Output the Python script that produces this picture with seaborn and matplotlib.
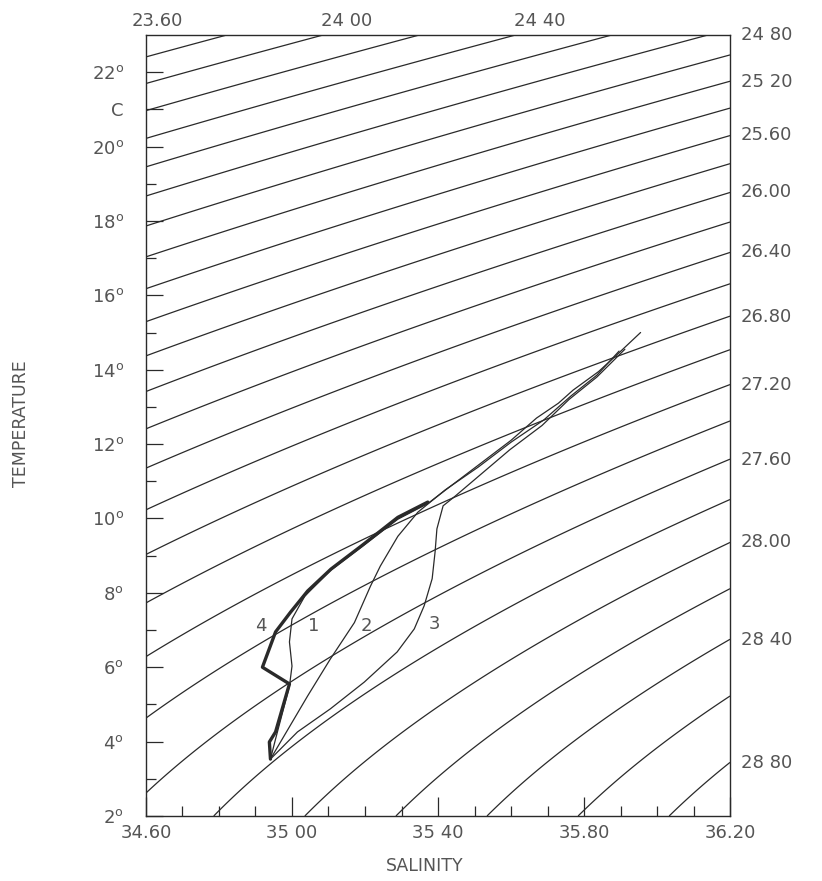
import numpy as np
import pandas as pd
import matplotlib
matplotlib.use("Agg")
import matplotlib.pyplot as plt
import seaborn as sns

# ---------------- data ----------------
# isopycnal (sigma-t) levels drawn on the diagram
sigma_levels = [23.6, 23.8, 24.0, 24.2, 24.4, 24.6, 24.8, 25.0, 25.2, 25.4, 25.6,
                25.8, 26.0, 26.2, 26.4, 26.6, 26.8, 27.0, 27.2, 27.4, 27.6, 27.8,
                28.0, 28.2, 28.4, 28.6, 28.8]
top_labels = [23.6, 24.0, 24.4]
top_texts = ["23.60", "24 00", "24 40"]
right_labels = [24.8, 25.2, 25.6, 26.0, 26.4, 26.8, 27.2, 27.6, 28.0, 28.4, 28.8]
right_texts = ["24 80", "25 20", "25.60", "26.00", "26.40", "26.80", "27.20",
               "27.60", "28.00", "28 40", "28 80"]

x_ticks = [34.60, 35.00, 35.40, 35.80, 36.20]
x_texts = ["34.60", "35 00", "35 40", "35.80", "36.20"]
y_ticks = [2, 4, 6, 8, 10, 12, 14, 16, 18, 20, 21, 22]
y_texts = ["2$^{\\rm o}$", "4$^{\\rm o}$", "6$^{\\rm o}$", "8$^{\\rm o}$", "10$^{\\rm o}$",
           "12$^{\\rm o}$", "14$^{\\rm o}$", "16$^{\\rm o}$", "18$^{\\rm o}$",
           "20$^{\\rm o}$", "C", "22$^{\\rm o}$"]

# T-S curves (salinity, temperature)
curve4_S = [34.941, 34.938, 34.955, 34.993, 34.919, 34.955, 34.996, 35.043, 35.107,
            35.19, 35.29, 35.372]
curve4_T = [3.53, 3.99, 4.26, 5.55, 6.00, 6.95, 7.48, 8.05, 8.64, 9.26, 10.03, 10.44]

curve1_S = [34.941, 34.955, 34.993, 35.000, 34.993, 35.000, 35.035, 35.105, 35.19,
            35.29, 35.372, 35.42, 35.51, 35.60, 35.67, 35.73, 35.77, 35.84, 35.89, 35.955]
curve1_T = [3.53, 4.07, 5.49, 6.03, 6.68, 7.30, 7.91, 8.60, 9.23, 9.98, 10.40, 10.76,
            11.43, 12.10, 12.70, 13.10, 13.45, 13.95, 14.40, 15.00]

curve2_S = [34.941, 35.043, 35.105, 35.171, 35.215, 35.242, 35.29, 35.345, 35.42,
            35.51, 35.60, 35.69, 35.765, 35.835, 35.896]
curve2_T = [3.53, 5.23, 6.22, 7.20, 8.18, 8.72, 9.52, 10.17, 10.77, 11.38, 12.05,
            12.65, 13.30, 13.85, 14.50]

curve3_S = [34.941, 35.015, 35.105, 35.198, 35.288, 35.335, 35.362, 35.384, 35.392,
            35.397, 35.414, 35.447, 35.507, 35.597, 35.685, 35.759, 35.835, 35.912]
curve3_T = [3.53, 4.26, 4.88, 5.60, 6.41, 7.03, 7.65, 8.38, 9.10, 9.72, 10.34, 10.60,
            11.10, 11.85, 12.50, 13.20, 13.80, 14.55]

curve_labels = ["4", "1", "2", "3"]
curve_label_S = [34.915, 35.060, 35.205, 35.390]
curve_label_T = [7.1, 7.1, 7.1, 7.15]

S_min, S_max = 34.60, 36.20
T_min, T_max = 2.0, 23.0


def sigma_t(S, T):
    rw = (999.842594 + 6.793952e-2 * T - 9.095290e-3 * T**2 + 1.001685e-4 * T**3
          - 1.120083e-6 * T**4 + 6.536332e-9 * T**5)
    A = 0.824493 - 4.0899e-3 * T + 7.6438e-5 * T**2 - 8.2467e-7 * T**3 + 5.3875e-9 * T**4
    B = -5.72466e-3 + 1.0227e-4 * T - 1.6546e-6 * T**2
    C = 4.8314e-4
    return rw + A * S + B * S**1.5 + C * S**2 - 1000.0


# ---------------- plot ----------------
sns.set_theme(style="white")
plt.rcParams['font.family'] = ['DejaVu Sans']
plt.rcParams['mathtext.fontset'] = 'dejavusans'

txt = "#555555"
ink = "#2a2a2a"

fig = plt.figure(figsize=(8.22, 8.81), dpi=100)
ax = fig.add_axes([0.1776, 0.0738, 0.7105, 0.8865])

Sg = np.linspace(S_min, S_max, 400)
Tg = np.linspace(T_min, T_max, 400)
SS, TT = np.meshgrid(Sg, Tg)
ax.contour(SS, TT, sigma_t(SS, TT), levels=sigma_levels, colors=ink, linewidths=0.9)

lw = {"4": 2.4, "1": 0.9, "2": 0.9, "3": 0.9}
for name, S, T in [("1", curve1_S, curve1_T), ("2", curve2_S, curve2_T),
                   ("3", curve3_S, curve3_T), ("4", curve4_S, curve4_T)]:
    df = pd.DataFrame({"S": S, "T": T})
    sns.lineplot(data=df, x="S", y="T", sort=False, estimator=None, ax=ax,
                 color=ink, linewidth=lw[name])

for lab, s, t in zip(curve_labels, curve_label_S, curve_label_T):
    ax.text(s, t, lab, ha="center", va="center", fontsize=13, color=txt)

ax.set_xlim(S_min, S_max)
ax.set_ylim(T_min, T_max)
ax.set_xlabel("")
ax.set_ylabel("")

for sp in ax.spines.values():
    sp.set_color(ink)
    sp.set_linewidth(1.0)

# ticks
ax.set_xticks(x_ticks)
ax.set_xticklabels(x_texts)
ax.set_xticks(np.arange(34.7, 36.15, 0.1), minor=True)
ax.set_yticks(y_ticks)
ax.set_yticklabels(y_texts)
ax.set_yticks(np.arange(3, 23, 2), minor=True)
ax.tick_params(axis="x", which="major", direction="in", length=14, width=0.9,
               color=ink, labelsize=13, labelcolor=txt, pad=6, bottom=True)
ax.tick_params(axis="x", which="minor", direction="in", length=7, width=0.9,
               color=ink, bottom=True)
ax.tick_params(axis="y", which="major", direction="in", length=12, width=0.9,
               color=ink, labelsize=13, labelcolor=txt, pad=16, left=True)
ax.tick_params(axis="y", which="minor", direction="in", length=7, width=0.9,
               color=ink, left=True)

# sigma labels: top edge and right edge, near where each isopycnal leaves the frame
for lev, t in zip(top_labels, top_texts):
    s_exit = Sg[np.argmin(np.abs(sigma_t(Sg, T_max) - lev))]
    if s_exit <= S_min + 0.01:
        s_exit = S_min + 0.03
    else:
        s_exit = s_exit + 0.065
    ax.text(s_exit, T_max + 0.38, t, ha="center", va="center", fontsize=13, color=txt,
            clip_on=False)
for lev, t in zip(right_labels, right_texts):
    t_exit = Tg[np.argmin(np.abs(sigma_t(S_max, Tg) - lev))]
    ax.text(1.018, t_exit, t, transform=ax.get_yaxis_transform(), ha="left",
            va="center", fontsize=13, color=txt, clip_on=False)

fig.text(0.025, 0.519, "TEMPERATURE", rotation=90, ha="center", va="center",
         fontsize=12.5, color=txt)
fig.text(0.517, 0.017, "SALINITY", ha="center", va="center", fontsize=12.5, color=txt)

fig.savefig("out.png", dpi=100, facecolor="white")
